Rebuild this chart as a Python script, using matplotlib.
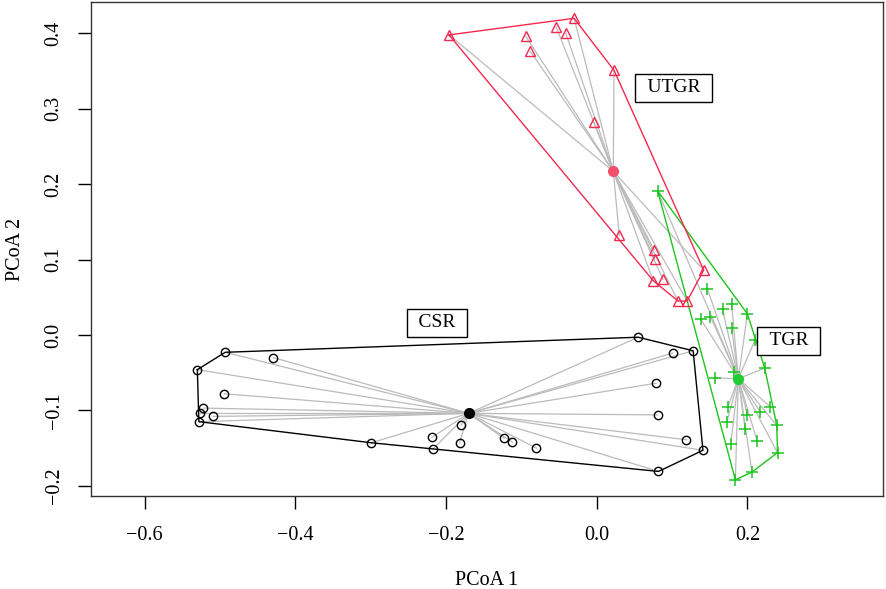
import numpy as np
import matplotlib
matplotlib.use("Agg")
import matplotlib.pyplot as plt

plt.rcParams['font.family'] = ['Liberation Serif', 'DejaVu Serif']

# PCoA scores
csr_x = [-0.493, -0.429, -0.530, -0.494, -0.522, -0.526, -0.509, -0.528, -0.299, -0.219,
         -0.217, -0.180, -0.182, -0.123, -0.112, -0.080, 0.055, 0.101, 0.128, 0.079,
         0.081, 0.119, 0.141, 0.082]
csr_y = [-0.023, -0.030, -0.046, -0.078, -0.097, -0.104, -0.108, -0.115, -0.143, -0.136,
         -0.151, -0.120, -0.143, -0.137, -0.142, -0.150, -0.003, -0.024, -0.021, -0.064,
         -0.106, -0.139, -0.153, -0.181]

tgr_x = [0.081, 0.147, 0.167, 0.179, 0.138, 0.151, 0.200, 0.179, 0.210, 0.223, 0.182,
         0.157, 0.174, 0.230, 0.200, 0.217, 0.173, 0.239, 0.197, 0.178, 0.213, 0.240,
         0.206, 0.184]
tgr_y = [0.191, 0.061, 0.034, 0.041, 0.021, 0.024, 0.028, 0.009, -0.007, -0.044, -0.049,
         -0.057, -0.095, -0.095, -0.106, -0.102, -0.115, -0.120, -0.125, -0.144, -0.141,
         -0.156, -0.182, -0.192]

utgr_x = [-0.196, -0.094, -0.088, -0.054, -0.041, -0.030, 0.023, -0.004, 0.030, 0.076,
          0.077, 0.075, 0.088, 0.108, 0.120, 0.142]
utgr_y = [0.398, 0.396, 0.376, 0.409, 0.400, 0.420, 0.351, 0.282, 0.132, 0.113,
          0.101, 0.072, 0.074, 0.045, 0.045, 0.086]

groups = ['CSR', 'TGR', 'UTGR']
cent_x = [-0.170, 0.188, 0.022]
cent_y = [-0.104, -0.058, 0.217]
lab_x = [-0.212, 0.255, 0.102]
lab_y = [0.016, -0.008, 0.328]
colors = ['black', '#1DC41D', '#F2294F']
cent_colors = ['black', '#22CC33', '#F0506A']
markers = ['o', '+', '^']


def hull(px, py):
    # monotone chain convex hull
    pts = sorted(set(zip(px, py)))

    def cross(o, a, b):
        return (a[0] - o[0]) * (b[1] - o[1]) - (a[1] - o[1]) * (b[0] - o[0])

    lower, upper = [], []
    for p in pts:
        while len(lower) >= 2 and cross(lower[-2], lower[-1], p) <= 0:
            lower.pop()
        lower.append(p)
    for p in reversed(pts):
        while len(upper) >= 2 and cross(upper[-2], upper[-1], p) <= 0:
            upper.pop()
        upper.append(p)
    h = lower[:-1] + upper[:-1]
    h.append(h[0])
    return np.array(h)


fig = plt.figure(figsize=(8.86, 5.89), dpi=100)
ax = fig.add_axes([0.1024, 0.1579, 0.8939, 0.8379])

data = [(csr_x, csr_y), (tgr_x, tgr_y), (utgr_x, utgr_y)]
for i, (gx, gy) in enumerate(data):
    for x, y in zip(gx, gy):
        ax.plot([cent_x[i], x], [cent_y[i], y], color='#BBBBBB', lw=0.9, zorder=1)
    h = hull(gx, gy)
    ax.plot(h[:, 0], h[:, 1], color=colors[i], lw=1.0, zorder=2)
    if markers[i] == '+':
        ax.plot(gx, gy, ls='none', marker='+', ms=8, mew=1.1, color=colors[i], zorder=3)
    else:
        ax.plot(gx, gy, ls='none', marker=markers[i], ms=6 if markers[i] == 'o' else 7.5,
                mfc='none', mec=colors[i], mew=1.0, zorder=3)
    ax.plot(cent_x[i], cent_y[i], ls='none', marker='o', ms=7, color=cent_colors[i], zorder=4)
    ax.text(lab_x[i], lab_y[i], '\u2004' + groups[i] + '\u2004', ha='center', va='center',
            fontsize=14, zorder=5,
            bbox=dict(boxstyle='square,pad=0.28', fc='white', ec='black', lw=1.0))

ax.set_xlim(-0.6715, 0.3796)
ax.set_ylim(-0.2136, 0.441)
ax.set_xticks([-0.6, -0.4, -0.2, 0.0, 0.2])
ax.set_xticklabels(['\u22120.6', '\u22120.4', '\u22120.2', '0.0', '0.2'])
ax.set_yticks([-0.2, -0.1, 0.0, 0.1, 0.2, 0.3, 0.4])
ax.set_yticklabels(['\u22120.2', '\u22120.1', '0.0', '0.1', '0.2', '0.3', '0.4'],
                   rotation=90, va='center')
ax.tick_params(axis='both', direction='out', length=9.5, width=1.0, labelsize=14.5,
               color='black')
ax.tick_params(axis='x', pad=12)
ax.tick_params(axis='y', pad=10)
for s in ax.spines.values():
    s.set_linewidth(1.0)
    s.set_color('#333333')

ax.set_xlabel('PCoA 1', fontsize=14.5)
ax.xaxis.set_label_coords(0.5, -0.152)
ax.set_ylabel('PCoA 2', fontsize=14.5)
ax.yaxis.set_label_coords(-0.083, 0.5)

fig.savefig('out.png', dpi=100)
